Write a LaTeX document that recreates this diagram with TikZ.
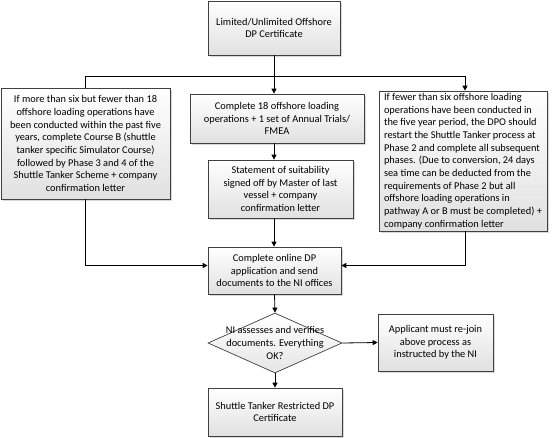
\documentclass[tikz,border=0pt]{standalone}
\usepackage{fontspec}
\setmainfont{Carlito}
\usetikzlibrary{shapes.geometric,arrows.meta,shadows,calc}
\begin{document}
\begin{tikzpicture}[x=1bp,y=-1bp,
  txt/.style={font=\fontsize{10.4}{12.7}\selectfont},
  box/.style={draw=black!75, line width=0.7bp, top color=white, bottom color=black!12,
    drop shadow={shadow xshift=2bp,shadow yshift=-2bp,opacity=0.25,fill=black!60},
    align=center, inner xsep=1bp, inner ysep=0bp, txt},
  decision/.style={diamond, draw=black!75, line width=0.7bp, top color=white, bottom color=black!10,
    inner sep=0pt, minimum width=134bp, minimum height=60bp},
  conn/.style={line width=0.8bp, black},
  arr/.style={conn, -{Triangle[length=5bp,width=5bp]}}
]
\useasboundingbox (0,0) rectangle (552,438);

\node[box, minimum width=132bp, minimum height=54bp] (top) at (274,28)
  {Limited/Unlimited Offshore\\DP Certificate};

\node[box, minimum width=169bp, minimum height=111bp] (left) at (85.5,143.5)
  {If more than six but fewer than 18\\offshore loading operations have\\been conducted within the past five\\years, complete Course B (shuttle\\tanker specific Simulator Course)\\followed by Phase 3 and 4 of the\\Shuttle Tanker Scheme + company\\confirmation letter};

\node[box, minimum width=174bp, minimum height=49bp] (b2) at (277,118.5)
  {Complete 18 offshore loading\\operations + 1 set of Annual Trials/\\FMEA};

\node[box, minimum width=145bp, minimum height=58bp] (b3) at (280.5,189)
  {Statement of suitability\\signed off by Master of last\\vessel + company\\confirmation letter};

\node[box, minimum width=133bp, minimum height=47bp] (b4) at (274.5,270.5)
  {Complete online DP\\application and send\\documents to the NI offices};

\node[box, align=left, minimum width=168bp, minimum height=140bp] (right) at (463,161)
  {If fewer than six offshore loading\\operations have been conducted in\\the five year period, the DPO should\\restart the Shuttle Tanker process at\\Phase 2 and complete all subsequent\\phases. (Due to conversion, 24 days\\sea time can be deducted from the\\requirements of Phase 2 but all\\offshore loading operations in\\pathway A or B must be completed) +\\company confirmation letter};

\node[decision, label={[txt, align=center]center:NI assesses and verifies\\documents. Everything\\OK?}] (d) at (275,343) {};

\node[box, minimum width=115bp, minimum height=57bp] (app) at (435.5,342.5)
  {Applicant must re-join\\above process as\\instructed by the NI};

\node[box, minimum width=134bp, minimum height=48bp] (bot) at (275,412)
  {Shuttle Tanker Restricted DP\\Certificate};

\coordinate (split) at (274,76);

\draw[arr] (top.south) -- (top.south |- b2.north);
\draw[conn] (split) -| (left.north);
\draw[arr] (split) -| ([xshift=2bp]right.north);
\draw[arr] (top.south |- b2.south) -- (top.south |- b3.north);
\draw[arr] (top.south |- b3.south) -- (top.south |- b4.north);
\draw[arr] (left.south) |- ([yshift=5bp]b4.west);
\draw[arr] ([xshift=2bp]right.south) |- ([yshift=5bp]b4.east);
\draw[arr] (b4.south) -- (d.north);
\draw[arr] (d.south) -- (bot.north);
\draw[arr] (d.east) -- (app.west);
\end{tikzpicture}
\end{document}
